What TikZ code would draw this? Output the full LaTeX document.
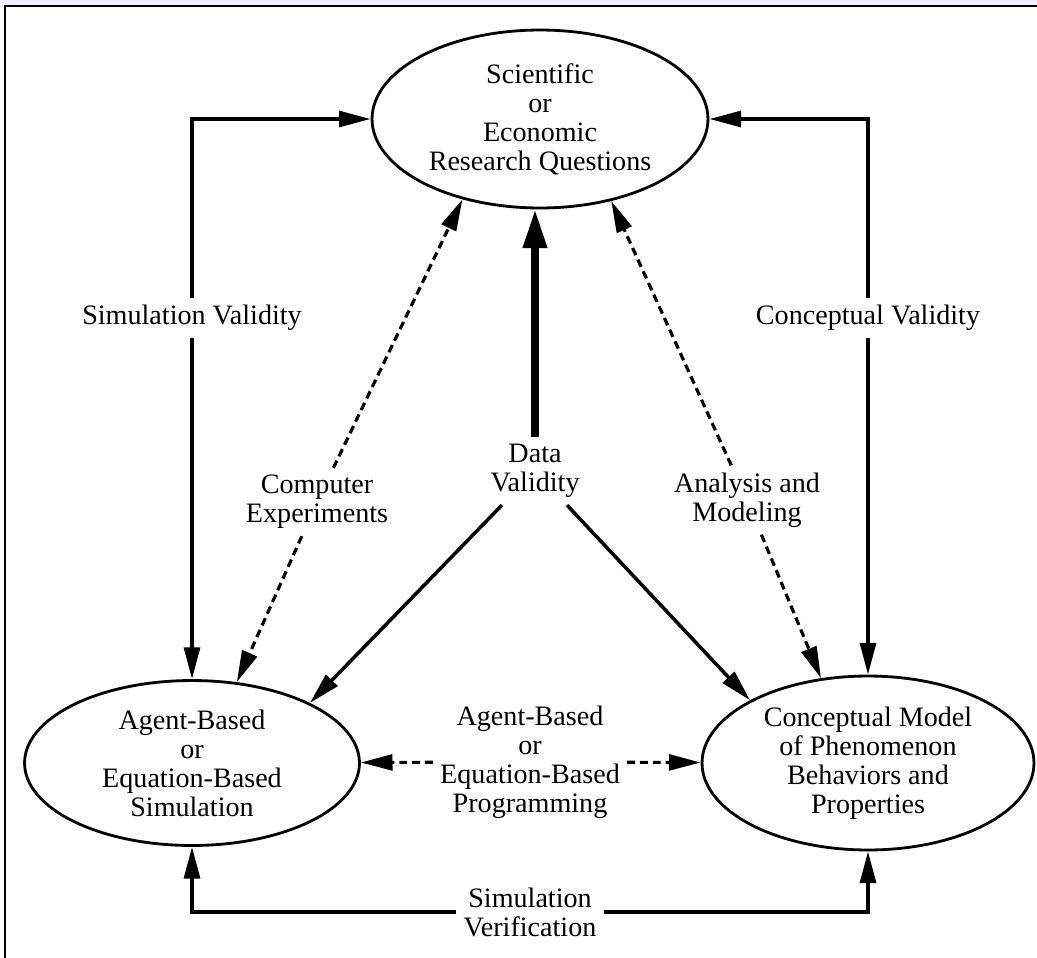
\documentclass[tikz,border=0pt]{standalone}
\usepackage{fontspec}
\setmainfont{Liberation Serif}
\usepackage{xcolor}
\usetikzlibrary{arrows.meta}
\usetikzlibrary{shapes.geometric}
\usetikzlibrary{positioning}
\definecolor{bandcol}{RGB}{240,240,254}
\tikzstyle{oval} = [ellipse, draw=black, line width=1.6pt, inner sep=1pt, align=center]
\tikzstyle{lbl} = [align=center, inner sep=4pt]
\tikzstyle{arrow} = [line width=2pt, -{Triangle[length=18pt,width=9pt]}]
\tikzstyle{dasharrow} = [arrow, line width=1.8pt, dash pattern=on 4.5pt off 2.8pt]
\tikzstyle{fatarrow} = [line width=4.2pt, -{Triangle[length=22pt,width=13pt]}]

\begin{document}
\begin{tikzpicture}[x=0.02cm,y=-0.02cm,font=\fontsize{16}{16.5}\selectfont]
                    \useasboundingbox (0,0) rectangle (1037,957);
                    \fill [bandcol] (0,0) rectangle (1037,6);
                    \draw [line width=1.4pt] (5,6) rectangle (1100,1000);
                    \node [oval, minimum width=6.72cm, minimum height=3.56cm] (quest) at (540,119) {Scientific\\or\\Economic\\Research Questions};
                    \node [oval, minimum width=6.7cm, minimum height=3.3cm] (sim) at (192,763) {Agent-Based\\or\\Equation-Based\\Simulation};
                    \node [oval, minimum width=6.64cm, minimum height=3.48cm] (model) at (868,763) {Conceptual Model\\of Phenomenon\\Behaviors and\\Properties};
                    \node [lbl] (simval) at (192,318) {Simulation Validity};
                    \node [lbl] (concval) at (868,318) {Conceptual Validity};
                    \node [lbl] (compexp) at (317,502) {Computer\\Experiments};
                    \node [lbl] (datval) at (535,471) {Data\\Validity};
                    \node [lbl] (anmod) at (747,500) {Analysis and\\Modeling};
                    \node [lbl] (prog) at (530,762) {Agent-Based\\or\\Equation-Based\\Programming};
                    \node [lbl] (simver) at (530,912) {Simulation\\Verification};
                    \draw [arrow] (simval) |- (quest);
                    \draw [arrow] (simval) -- (sim);
                    \draw [arrow] (concval) |- (quest);
                    \draw [arrow] (concval) -- (model);
                    \draw [arrow] (simver) -| (sim);
                    \draw [arrow] (simver) -| (model);
                    \draw [dasharrow] (prog) -- (sim);
                    \draw [dasharrow] (prog) -- (model);
                    \draw [dasharrow] (compexp) -- (quest.226);
                    \draw [dasharrow] (compexp) -- (sim.61);
                    \draw [dasharrow] (anmod) -- (quest.311);
                    \draw [dasharrow] (anmod) -- (model.119);
                    \draw [fatarrow] (datval) -- (datval |- quest.south);
                    \draw [arrow] (datval) -- (sim.27);
                    \draw [arrow] (datval) -- (model.152);
                \end{tikzpicture}
\end{document}
